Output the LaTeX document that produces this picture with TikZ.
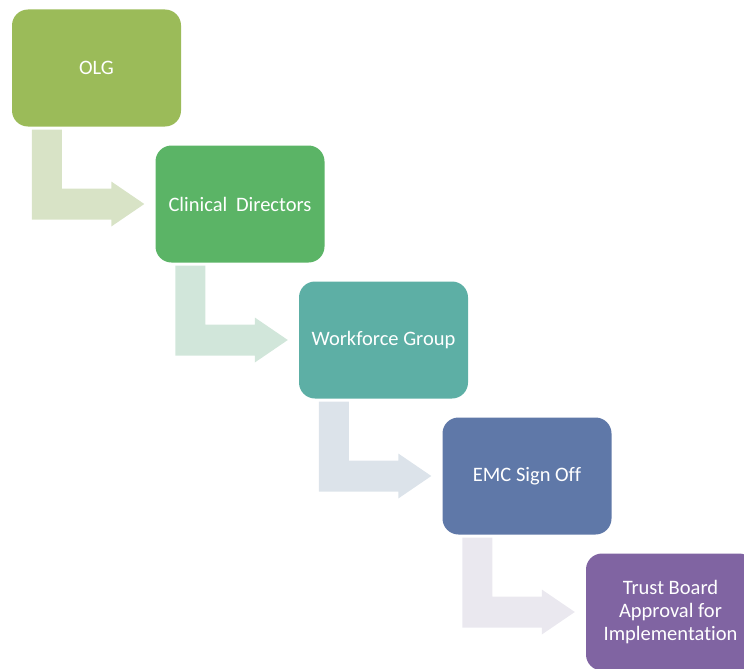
\documentclass[tikz,border=0pt]{standalone}
\usepackage{fontspec}
\setmainfont{Carlito}[RawFeature=-liga]
\definecolor{olgc}{HTML}{9BBB59}
\definecolor{cdc}{HTML}{5BB466}
\definecolor{wgc}{HTML}{5DAFA5}
\definecolor{emcc}{HTML}{5F78A8}
\definecolor{tbc}{HTML}{8064A2}
\definecolor{olgarr}{HTML}{D8E3C6}
\definecolor{cdarr}{HTML}{D1E6DA}
\definecolor{wgarr}{HTML}{DCE3EA}
\definecolor{emcarr}{HTML}{EAE8EF}
\tikzset{
  stage/.style={rounded corners=16pt, minimum width=169pt, minimum height=117pt,
    text=white, align=center, inner sep=0pt,
    font=\fontsize{20.5}{23}\selectfont},
}
% freccia piegata: da sotto #1 verso il lato sinistro di #2
\newcommand{\bentarrow}[3]{%
  \fill[#3] ([shift={(20pt,-3pt)}]#1.south west)
    -- ([shift={(50pt,-3pt)}]#1.south west)
    |- ([shift={(-44pt,15.5pt)}]#2.west)
    -- ([shift={(-44pt,22.5pt)}]#2.west)
    -- ([xshift=-11pt]#2.west)
    -- ([shift={(-44pt,-22.5pt)}]#2.west)
    -- ([shift={(-44pt,-15.5pt)}]#2.west)
    -| ([shift={(20pt,-3pt)}]#1.south west) -- cycle;}
\begin{document}
\begin{tikzpicture}[x=1pt,y=1pt]
        \useasboundingbox (0,0) rectangle (744,-669);
        % Riquadri
        \node[stage, fill=olgc] (olg) at (96.5,-68) {OLG};
        \node[stage, fill=cdc] (cd) at (240,-204) {Clinical\hspace{0.2em} Directors};
        \node[stage, fill=wgc] (wg) at (383.5,-340) {Workforce Group};
        \node[stage, fill=emcc] (emc) at (527,-476) {EMC Sign Off};
        \node[stage, fill=tbc] (tb) at (670.5,-612) {Trust Board\\Approval for\\Implementation};
        % Frecce
        \foreach \a/\b/\c in {olg/cd/olgarr, cd/wg/cdarr, wg/emc/wgarr, emc/tb/emcarr}
            \bentarrow{\a}{\b}{\c};
    \end{tikzpicture}
\end{document}
